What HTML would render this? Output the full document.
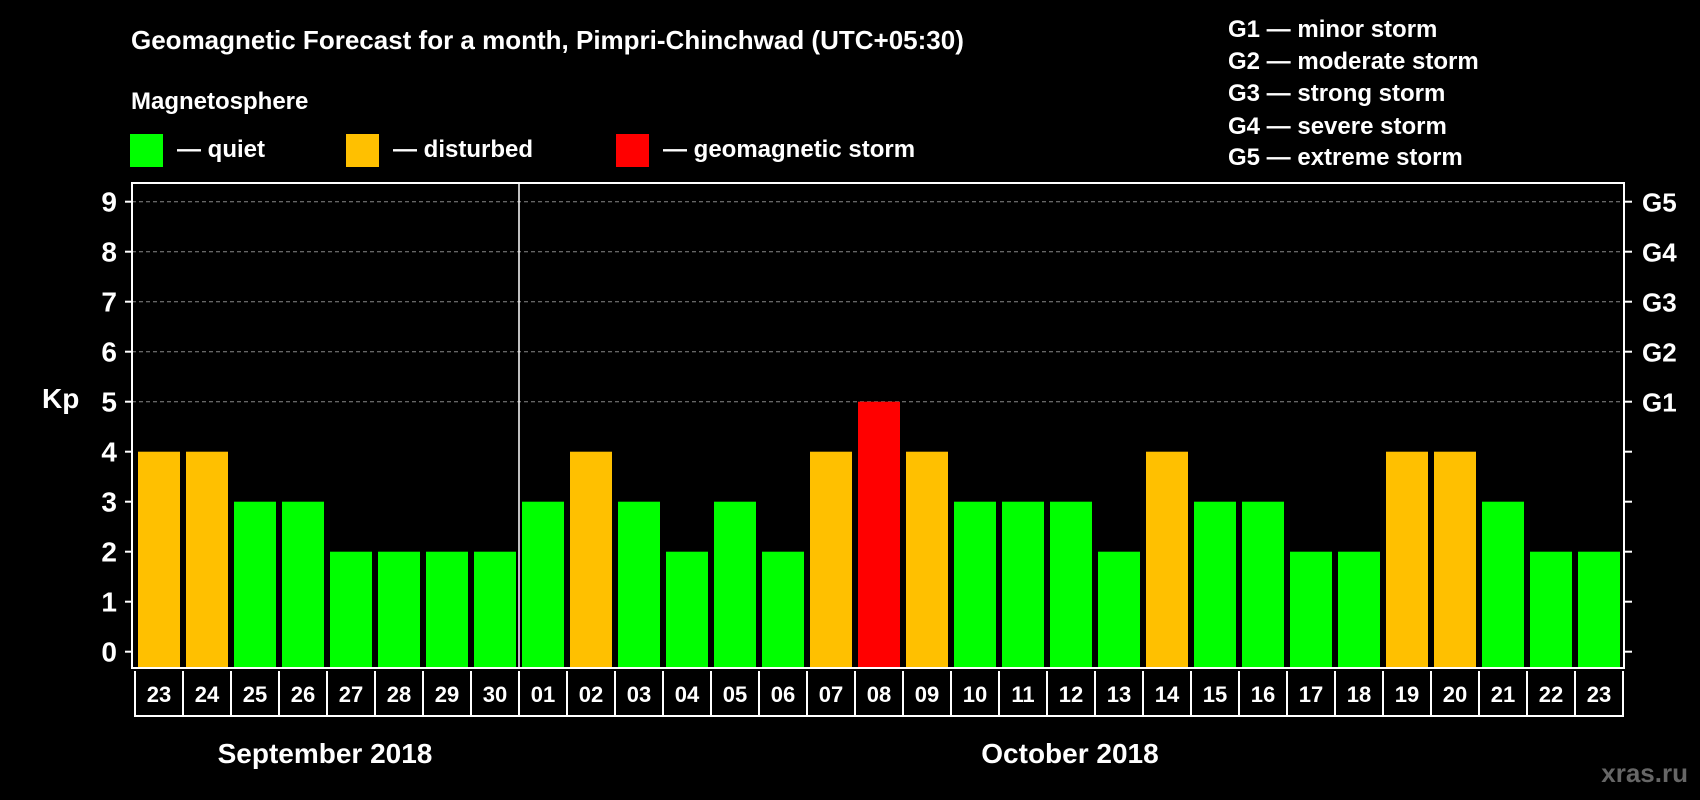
<!DOCTYPE html>
<html><head><meta charset="utf-8"><style>
html,body{margin:0;padding:0;background:#000;}
svg{display:block;font-family:"Liberation Sans",Arial,sans-serif;font-weight:bold;}
</style></head><body>
<svg id="c" width="1700" height="800" viewBox="0 0 1700 800">
<rect x="0" y="0" width="1700" height="800" fill="#000"/>
<text x="131" y="49" fill="#fff" font-size="26">Geomagnetic Forecast for a month, Pimpri-Chinchwad (UTC+05:30)</text>
<text x="131" y="109" fill="#fff" font-size="24">Magnetosphere</text>
<g><rect x="130" y="134" width="33" height="33" fill="#00ff00"/><text x="177" y="157" fill="#fff" font-size="24">— quiet</text></g>
<g><rect x="346" y="134" width="33" height="33" fill="#ffc000"/><text x="393" y="157" fill="#fff" font-size="24">— disturbed</text></g>
<g><rect x="616" y="134" width="33" height="33" fill="#ff0000"/><text x="663" y="157" fill="#fff" font-size="24">— geomagnetic storm</text></g>
<g fill="#fff" font-size="24">
<text x="1228" y="37">G1 — minor storm</text>
<text x="1228" y="69">G2 — moderate storm</text>
<text x="1228" y="101">G3 — strong storm</text>
<text x="1228" y="134">G4 — severe storm</text>
<text x="1228" y="165">G5 — extreme storm</text>
</g>
<text x="42" y="408" fill="#fff" font-size="28">Kp</text>
<text x="325" y="763" fill="#fff" font-size="28" text-anchor="middle">September 2018</text>
<text x="1070" y="763" fill="#fff" font-size="28" text-anchor="middle">October 2018</text>
<text x="1688" y="782" fill="#666" font-size="26" text-anchor="end">xras.ru</text>
<g id="plot"></g>
</svg>
<script>
const days=["23","24","25","26","27","28","29","30","01","02","03","04","05","06","07","08","09","10","11","12","13","14","15","16","17","18","19","20","21","22","23"];
const kp=[4,4,3,3,2,2,2,2,3,4,3,2,3,2,4,5,4,3,3,3,2,4,3,3,2,2,4,4,3,2,2];
const yTicks=[0,1,2,3,4,5,6,7,8,9];
const gLabels=["G1","G2","G3","G4","G5"];
const NS="http://www.w3.org/2000/svg";
const g=document.getElementById('plot');
const L=132,R=1624,T=183,B=668,slot0=135,slotW=48;
const y=v=>651.7-v*50;
const xs=i=>slot0+i*slotW;
function mk(t,a){const e=document.createElementNS(NS,t);for(const k in a)e.setAttribute(k,a[k]);g.appendChild(e);return e;}
function color(v){return v>=5?'#ff0000':(v>=4?'#ffc000':'#00ff00');}
yTicks.forEach(v=>{
  if(v>=5){const ln=mk('line',{x1:L,x2:R,y1:y(v),y2:y(v),stroke:'#888','stroke-dasharray':'4,3','stroke-width':1});
  
  }
  const t1=mk('line',{x1:L-7,x2:L,y1:y(v),y2:y(v),stroke:'#fff','stroke-width':2});
  
  
  const t2=mk('line',{x1:R,x2:R+8,y1:y(v),y2:y(v),stroke:'#fff','stroke-width':2});
  
  
  const tl=mk('text',{x:117,y:y(v)+10,fill:'#fff','font-size':28,'text-anchor':'end'});
  tl.textContent=v;
  
  
});
gLabels.forEach((s,i)=>{
  const t=mk('text',{x:1642,y:y(5+i)+10,fill:'#fff','font-size':26});
  t.textContent=s;
  
  
});
kp.forEach((v,i)=>{
  const r=mk('rect',{x:xs(i)+3,y:y(v),width:42,height:y(0)+16.3-y(v)-0,fill:color(v)});
  r.setAttribute('height',(B-1)-y(v));
  
  
  const t=mk('text',{x:xs(i)+24,y:702,fill:'#fff','font-size':22,'text-anchor':'middle'});
  t.textContent=days[i];
  
  
});
for(let i=0;i<=days.length;i++){
  const d=mk('line',{x1:xs(i),x2:xs(i),y1:B+3,y2:716,stroke:'#fff','stroke-width':2});
  
  
}
const bb=mk('line',{x1:slot0-1,x2:xs(days.length)+1,y1:716,y2:716,stroke:'#fff','stroke-width':2});


const frame=mk('rect',{x:L,y:T,width:R-L,height:B-T,fill:'none',stroke:'#fff','stroke-width':2});


const sep=mk('line',{x1:xs(8),x2:xs(8),y1:T,y2:B,stroke:'#fff','stroke-width':1.5});


</script>
</body></html>
